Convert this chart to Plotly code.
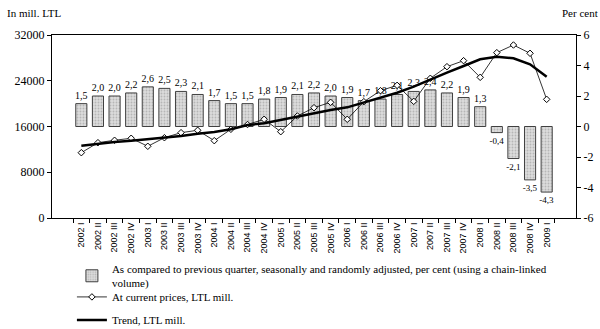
import plotly.graph_objects as go

quarters = [
    "2002 I", "2002 II", "2002 III", "2002 IV",
    "2003 I", "2003 II", "2003 III", "2003 IV",
    "2004 I", "2004 II", "2004 III", "2004 IV",
    "2005 I", "2005 II", "2005 III", "2005 IV",
    "2006 I", "2006 II", "2006 III", "2006 IV",
    "2007 I", "2007 II", "2007 III", "2007 IV",
    "2008 I", "2008 II", "2008 III", "2008 IV",
    "2009 I",
]

# Quarter-on-quarter change, seasonally and randomly adjusted, per cent
qoq_change = [
    1.5, 2.0, 2.0, 2.2,
    2.6, 2.5, 2.3, 2.1,
    1.7, 1.5, 1.5, 1.8,
    1.9, 2.1, 2.2, 2.0,
    1.9, 1.7, 1.8, 2.1,
    2.3, 2.4, 2.2, 1.9,
    1.3, -0.4, -2.1, -3.5,
    -4.3,
]

# GDP at current prices, LTL mill.
current_prices = [
    11420, 13170, 13590, 13940,
    12540, 14040, 14920, 15340,
    13520, 15510, 16350, 17260,
    15090, 17840, 19290, 20230,
    17260, 20340, 22260, 23200,
    20400, 24430, 26460, 27510,
    24600, 28910, 30250, 28800,
    20750,
]

# Trend, LTL mill.
trend = [
    12640, 12990, 13290, 13520,
    13760, 14040, 14340, 14740,
    15040, 15510, 16260, 16560,
    17140, 17720, 18420, 18890,
    19350, 20170, 21040, 21910,
    22960, 24250, 25410, 26580,
    27750, 28210, 27920, 26870,
    24710,
]

left_ticks = [0, 8000, 16000, 24000, 32000]
right_ticks = [-6, -4, -2, 0, 2, 4, 6]

SERIF = "Liberation Serif"
SANS = "Liberation Sans"

# value labels with a decimal comma; labels under negative bars are a touch smaller
bar_labels = [f"{v:.1f}".replace(".", ",") for v in qoq_change]
label_sizes = [10 if v >= 0 else 9 for v in qoq_change]

fig = go.Figure()

fig.add_trace(go.Bar(
    x=quarters,
    y=qoq_change,
    yaxis="y",
    name="As compared to previous quarter, seasonally and randomly adjusted, per cent (using a chain-linked<br>volume)",
    legend="legend",
    marker=dict(
        color="#d0d0d0",
        line=dict(color="#404040", width=1),
        pattern=dict(shape=".", fgcolor="#909090", bgcolor="#dcdcdc", size=3, solidity=0.3),
    ),
    text=bar_labels,
    textposition="outside",
    constraintext="none",
    textfont=dict(family=SERIF, size=label_sizes, color="black"),
    cliponaxis=False,
))

fig.add_trace(go.Scatter(
    x=quarters,
    y=current_prices,
    yaxis="y2",
    mode="lines+markers",
    name="At current prices, LTL mill.",
    legend="legend2",
    line=dict(color="black", width=0.8),
    marker=dict(symbol="diamond", size=5, color="white", line=dict(color="black", width=1)),
))

fig.add_trace(go.Scatter(
    x=quarters,
    y=trend,
    yaxis="y2",
    mode="lines",
    name="Trend, LTL mill.",
    legend="legend3",
    line=dict(color="black", width=2.5),
))

legend_style = dict(
    x=0.038, xanchor="left", yanchor="top",
    font=dict(family=SERIF, size=11, color="black"),
    bgcolor="rgba(0,0,0,0)",
    itemwidth=30,
)

fig.update_layout(
    width=600,
    height=329,
    margin=dict(l=52, r=24, t=35, b=111, autoexpand=False),
    paper_bgcolor="white",
    plot_bgcolor="white",
    bargap=0.33,
    showlegend=True,
    legend=dict(legend_style, y=-0.202),
    legend2=dict(legend_style, y=-0.352),
    legend3=dict(legend_style, y=-0.478),
    xaxis=dict(
        type="category",
        tickangle=-90,
        tickfont=dict(family=SANS, size=9, color="black"),
        ticks="outside",
        tickson="boundaries",
        ticklen=4,
        tickcolor="black",
        showline=True,
        linecolor="black",
        linewidth=1,
        mirror=True,
        showgrid=False,
        zeroline=False,
    ),
    yaxis=dict(
        side="right",
        range=[-6, 6],
        tickvals=right_ticks,
        ticktext=[str(v) for v in right_ticks],
        tickfont=dict(family=SERIF, size=12, color="black"),
        ticks="outside",
        ticklen=4,
        tickcolor="black",
        showline=True,
        linecolor="black",
        linewidth=1,
        showgrid=False,
        zeroline=False,
    ),
    yaxis2=dict(
        side="left",
        overlaying="y",
        range=[0, 32000],
        tickvals=left_ticks,
        ticktext=[str(v) for v in left_ticks],
        tickfont=dict(family=SERIF, size=12, color="black"),
        ticks="outside",
        ticklen=4,
        tickcolor="black",
        showline=True,
        linecolor="black",
        linewidth=1,
        showgrid=False,
        zeroline=False,
    ),
    annotations=[
        dict(text="In mill. LTL", xref="paper", yref="paper", x=-0.09, y=1.0,
             yshift=22, xanchor="left", yanchor="middle", showarrow=False,
             font=dict(family=SERIF, size=11, color="black")),
        dict(text="Per cent", xref="paper", yref="paper", x=1.045, y=1.0,
             yshift=22, xanchor="right", yanchor="middle", showarrow=False,
             font=dict(family=SERIF, size=11, color="black")),
    ],
)

fig.write_html("out.html")
